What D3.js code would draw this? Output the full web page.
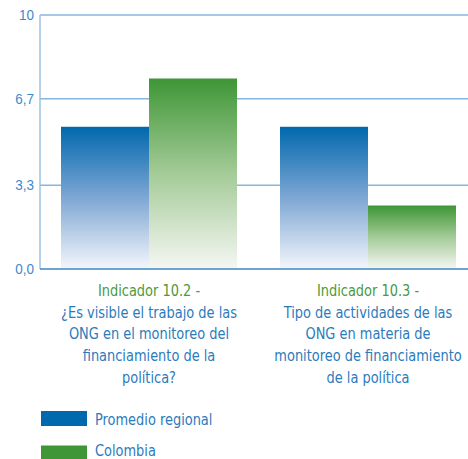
<!DOCTYPE html>
<html>
<head>
<meta charset="utf-8">
<script src="https://cdn.jsdelivr.net/npm/d3@7"></script>
<style>
  html, body { margin: 0; padding: 0; background: #fff; }
  svg { display: block; font-family: "Liberation Sans Narrow", "DejaVu Sans Condensed", "Roboto", sans-serif; }
</style>
</head>
<body>
<svg id="chart" width="468" height="459"></svg>
<script>
// Indicator categories (each label split into lines: first line is the indicator title)
const categories = ["10.2", "10.3"];
const categoryLines = [
  ["Indicador 10.2 -", "¿Es visible el trabajo de las", "ONG en el monitoreo del", "financiamiento de la", "política?"],
  ["Indicador 10.3 -", "Tipo de actividades de las", "ONG en materia de", "monitoreo de financiamiento", "de la política"]
];
const seriesNames = ["Promedio regional", "Colombia"];
const promedioRegional = [5.6, 5.6];
const colombia = [7.5, 2.5];
const tickValues = [0, 3.3, 6.7, 10];
const tickLabels = ["0,0", "3,3", "6,7", "10"];

const svg = d3.select("#chart");
const narrow = 0.9; // horizontal squeeze to mimic a condensed face

const y = d3.scaleLinear().domain([0, 10]).range([269, 15]);
const groupX = d3.scaleOrdinal().domain(categories).range([61, 280]);
const x1 = d3.scaleBand().domain(seriesNames).range([0, 176]).padding(0);

const colors = { "Promedio regional": ["#0068ad", "#7ea7d4", "#f4f6fc"], "Colombia": ["#3e9636", "#a4cb98", "#f5f7f3"] };

const defs = svg.append("defs");
seriesNames.forEach((s, i) => {
  const g = defs.append("linearGradient").attr("id", "grad" + i)
    .attr("x1", 0).attr("y1", 0).attr("x2", 0).attr("y2", 1);
  g.append("stop").attr("offset", "0%").attr("stop-color", colors[s][0]);
  g.append("stop").attr("offset", "50%").attr("stop-color", colors[s][1]);
  g.append("stop").attr("offset", "100%").attr("stop-color", colors[s][2]);
});

// grid lines
const grid = svg.append("g");
tickValues.filter(v => v > 0).forEach(v => {
  grid.append("line")
    .attr("x1", 40).attr("x2", 468)
    .attr("y1", y(v)).attr("y2", y(v))
    .attr("stroke", "#86b6de").attr("stroke-width", 1.4);
});

// bars
const data = categories.map((c, i) => ({ c, vals: [promedioRegional[i], colombia[i]] }));
const groups = svg.append("g").selectAll("g").data(data).join("g")
  .attr("transform", d => `translate(${groupX(d.c)},0)`);
groups.selectAll("rect").data(d => d.vals.map((v, i) => ({ s: seriesNames[i], v, i })))
  .join("rect")
  .attr("x", d => x1(d.s))
  .attr("width", x1.bandwidth())
  .attr("y", d => y(d.v))
  .attr("height", d => y(0) - y(d.v))
  .attr("fill", d => `url(#grad${d.i})`);

// axes lines
svg.append("line").attr("x1", 40).attr("x2", 40).attr("y1", y(10)).attr("y2", y(0))
  .attr("stroke", "#95bfe0").attr("stroke-width", 1.4);
svg.append("line").attr("x1", 40).attr("x2", 468).attr("y1", y(0)).attr("y2", y(0))
  .attr("stroke", "#3f84c2").attr("stroke-width", 1.6);

// y tick labels
const yAxis = d3.axisLeft(y).tickValues(tickValues).tickSize(0).tickPadding(0)
  .tickFormat((d, i) => tickLabels[i]);
const ya = svg.append("g").attr("transform", "translate(34,0)").call(yAxis);
ya.select(".domain").remove();
ya.selectAll("text").attr("fill", "#3a8acb").style("font-size", "15px")
  .attr("x", 0)
  .attr("transform", `scale(${narrow},1)`);

// category labels
const centers = categories.map(c => groupX(c) + 88);
categories.forEach((c, i) => {
  const t = svg.append("text").attr("text-anchor", "middle").style("font-size", "16px")
    .attr("transform", `translate(${centers[i]},0) scale(${narrow},1)`);
  categoryLines[i].forEach((line, j) => {
    t.append("tspan").attr("x", 0).attr("y", 296 + j * 21.7)
      .attr("fill", j === 0 ? "#4a9a3c" : "#2b7bbb").text(line);
  });
});

// legend
const legend = svg.append("g");
seriesNames.forEach((s, i) => {
  legend.append("rect").attr("x", 41).attr("y", 411 + i * 34.5).attr("width", 46).attr("height", 15)
    .attr("fill", colors[s][0]);
  legend.append("text").attr("transform", `translate(95,${425 + i * 31}) scale(${narrow},1)`)
    .attr("fill", "#2b7bbb").style("font-size", "16px").text(s);
});
</script>
</body>
</html>
